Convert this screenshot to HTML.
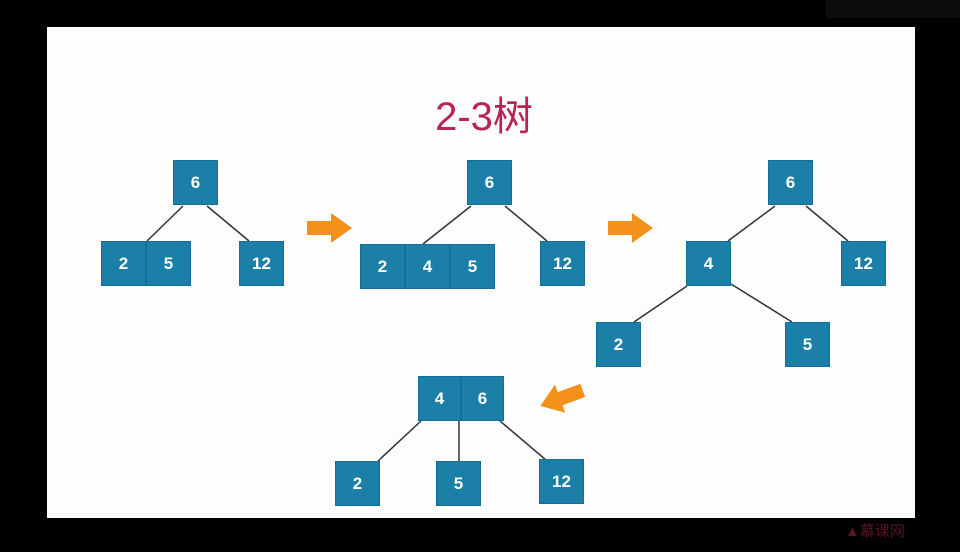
<!DOCTYPE html>
<html><head><meta charset="utf-8"><style>
body{margin:0;background:#000;width:960px;height:552px;overflow:hidden;position:relative;font-family:"Liberation Sans","Noto Sans CJK SC",sans-serif}
.slide{position:absolute;left:47px;top:27px;width:868px;height:491px;background:#fdfdfd}
.b{position:absolute;background:#1b7fa7;color:#fff;font-weight:bold;font-size:17px;display:flex;align-items:center;justify-content:center;height:45px;box-sizing:border-box;border:1px solid #166f93}
svg{position:absolute;left:0;top:0}
</style></head><body>
<div class="slide"></div>
<div style="position:absolute;left:826px;top:0;width:134px;height:18px;background:#0d0d0d"></div>
<div style="position:absolute;left:0;top:84px;width:968px;text-align:center;font-size:40px;color:#b8244f;">2-3树</div>
<svg width="960" height="552">
<g stroke="#333" stroke-width="1.5">
<line x1="183" y1="206" x2="147" y2="241"/><line x1="207" y1="206" x2="249" y2="241"/>
<line x1="471" y1="206" x2="423" y2="244"/><line x1="505" y1="206" x2="547" y2="241"/>
<line x1="775" y1="206" x2="728" y2="241"/><line x1="806" y1="206" x2="848" y2="241"/>
<line x1="687" y1="286" x2="634" y2="322"/><line x1="731" y1="284" x2="792" y2="322"/>
<line x1="421" y1="421" x2="378" y2="461"/><line x1="459" y1="421" x2="459" y2="461"/><line x1="500" y1="421" x2="546" y2="460"/>
</g>
<g fill="#f39019">
<polygon transform="translate(307,213)" points="0,8 24,8 24,0 45,15 24,30 24,22 0,22"/>
<polygon transform="translate(608,213)" points="0,8 24,8 24,0 45,15 24,30 24,22 0,22"/>
<polygon transform="translate(562,398) rotate(160) translate(-22,-15)" points="0,8 24,8 24,0 45,15 24,30 24,22 0,22"/>
</g>
</svg>
<div class="b" style="left:173px;top:160px;width:45px">6</div>
<div class="b" style="left:101px;top:241px;width:45px">2</div>
<div class="b" style="left:146px;top:241px;width:45px">5</div>
<div class="b" style="left:239px;top:241px;width:45px">12</div>
<div class="b" style="left:467px;top:160px;width:45px">6</div>
<div class="b" style="left:360px;top:244px;width:45px">2</div>
<div class="b" style="left:405px;top:244px;width:45px">4</div>
<div class="b" style="left:450px;top:244px;width:45px">5</div>
<div class="b" style="left:540px;top:241px;width:45px">12</div>
<div class="b" style="left:768px;top:160px;width:45px">6</div>
<div class="b" style="left:686px;top:241px;width:45px">4</div>
<div class="b" style="left:841px;top:241px;width:45px">12</div>
<div class="b" style="left:596px;top:322px;width:45px">2</div>
<div class="b" style="left:785px;top:322px;width:45px">5</div>
<div class="b" style="left:418px;top:376px;width:43px">4</div>
<div class="b" style="left:461px;top:376px;width:43px">6</div>
<div class="b" style="left:335px;top:461px;width:45px">2</div>
<div class="b" style="left:436px;top:461px;width:45px">5</div>
<div class="b" style="left:539px;top:459px;width:45px">12</div>
<div style="position:absolute;left:845px;top:520px;font-size:15px;color:#5a1426">▲慕课网</div>
</body></html>
